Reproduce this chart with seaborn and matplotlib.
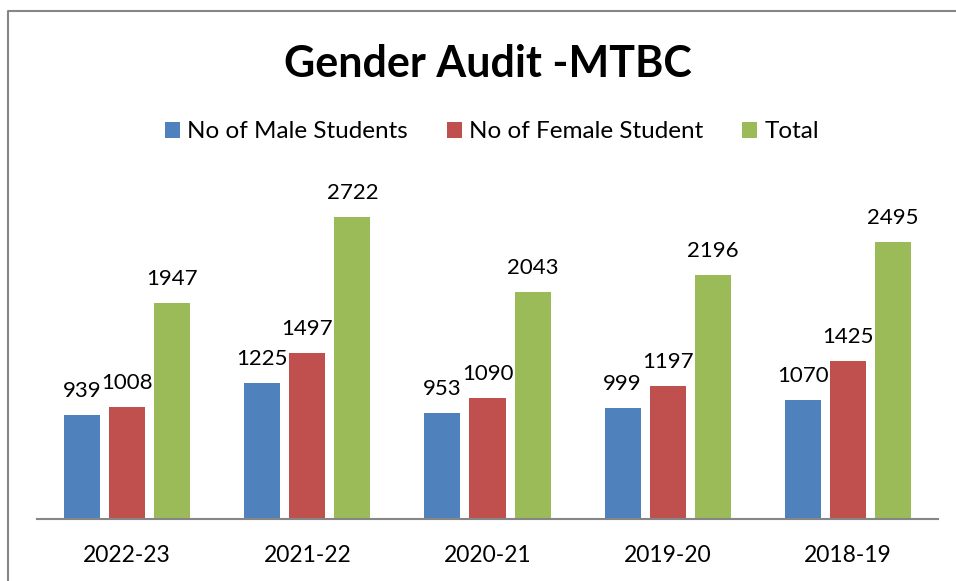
import seaborn as sns
import pandas as pd
import matplotlib.pyplot as plt
from matplotlib.lines import Line2D
from matplotlib.patches import Patch

years = ['2022-23', '2021-22', '2020-21', '2019-20', '2018-19']
male = [939, 1225, 953, 999, 1070]
female = [1008, 1497, 1090, 1197, 1425]
total = [1947, 2722, 2043, 2196, 2495]
series = ['No of Male Students', 'No of Female Student', 'Total']
colors = ['#4F81BD', '#C0504D', '#9BBB59']

df = pd.DataFrame({
    'year': years * 3,
    'series': [s for s in series for _ in years],
    'count': male + female + total,
})

sns.set_style('white')
plt.rcParams['font.family'] = ['Lato', 'DejaVu Sans']

fig = plt.figure(figsize=(9.56, 5.81), dpi=100)
ax = fig.add_axes([37 / 956, 62 / 581, 901 / 956, 333 / 581])

sns.barplot(data=df, x='year', y='count', hue='series', order=years,
            hue_order=series, palette=colors, saturation=1, width=0.75,
            gap=0.2, edgecolor='none', linewidth=0, ax=ax, legend=False)

ax.set_ylim(0, 3000)
ax.set_xlim(-0.5, 4.5)
ax.set_xlabel('')
ax.set_ylabel('')
ax.set_yticks([])
for side in ['top', 'left', 'right']:
    ax.spines[side].set_visible(False)
ax.spines['bottom'].set_color('#868686')
ax.spines['bottom'].set_linewidth(1.5)
ax.tick_params(axis='x', length=0, pad=19, labelsize=16.5, labelcolor='black')

# value labels above each bar
for cont in ax.containers:
    for bar in cont:
        h = bar.get_height()
        ax.annotate(f'{int(h)}', (bar.get_x() + bar.get_width() / 2, h),
                    xytext=(0, 13), textcoords='offset points',
                    ha='center', va='baseline', fontsize=16, color='black',
                    annotation_clip=False)

fig.text(488 / 956, 1 - 64 / 581, 'Gender Audit -MTBC', ha='center',
         va='center', fontsize=31, fontweight='bold', color='black')

handles = [Patch(facecolor=c, edgecolor='none') for c in colors]
fig.legend(handles, series, loc='center', bbox_to_anchor=(492 / 956, 1 - 132 / 581),
           ncol=3, frameon=False, fontsize=17.5, handlelength=0.62,
           handleheight=0.62, handletextpad=0.3, columnspacing=1.6,
           labelcolor='black')

# outer chart border (only top and left visible in the crop)
fig.add_artist(Line2D([8 / 956, 8 / 956, 1], [0, 1 - 11 / 581, 1 - 11 / 581],
                      transform=fig.transFigure, color='#868686', lw=1.5))

fig.savefig('out.png', dpi=100)
